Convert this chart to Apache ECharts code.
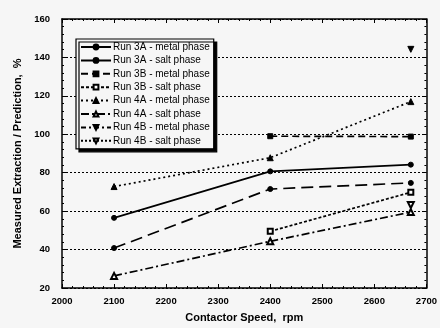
<!DOCTYPE html>
<html>
<head>
<meta charset="utf-8">
<script src="https://cdn.jsdelivr.net/npm/echarts@6/dist/echarts.min.js"></script>
<style>
html,body{margin:0;padding:0;background:#f6f6f6;}
#c{width:440px;height:328px;}
</style>
</head>
<body>
<div id="c"></div>
<script>
// Data
var seriesNames = [
  'Run 3A - metal phase','Run 3A - salt phase','Run 3B - metal phase','Run 3B - salt phase',
  'Run 4A - metal phase','Run 4A - salt phase','Run 4B - metal phase','Run 4B - salt phase'
];
var run3A_metal = [[2100, 56.5], [2400, 80.7], [2670, 84.2]];
var run3A_salt  = [[2100, 40.8], [2400, 71.5], [2670, 74.7]];
var run3B_metal = [[2400, 99.0], [2670, 98.8]];
var run3B_salt  = [[2400, 49.5], [2670, 69.8]];
var run4A_metal = [[2100, 72.8], [2400, 87.8], [2670, 117.0]];
var run4A_salt  = [[2100, 26.3], [2400, 44.3], [2670, 59.5]];
var run4B_metal = [[2670, 144.2]];
var run4B_salt  = [[2670, 63.2]];
var xTicks = [2000, 2100, 2200, 2300, 2400, 2500, 2600, 2700];
var yTicks = [20, 40, 60, 80, 100, 120, 140, 160];

var styles = [
  {data: run3A_metal, symbol: 'circle', size: 5, type: 'solid', rot: 0},
  {data: run3A_salt,  symbol: 'circle', size: 5, type: [12, 6], rot: 0},
  {data: run3B_metal, symbol: 'rect', size: 5, type: [7, 4], rot: 0},
  {data: run3B_salt,  symbol: 'emptyRect', size: 5, type: [3, 2], rot: 0},
  {data: run4A_metal, symbol: 'triangle', size: 6, type: [2, 3], rot: 0},
  {data: run4A_salt,  symbol: 'emptyTriangle', size: 6, type: [8, 3, 2, 3], rot: 0},
  {data: run4B_metal, symbol: 'triangle', size: 6, type: [5, 3, 2, 3], rot: 180},
  {data: run4B_salt,  symbol: 'emptyTriangle', size: 6, type: [2, 2], rot: 180}
];

var font = 'Liberation Sans, Arial, sans-serif';
var chart = echarts.init(document.getElementById('c'), null, {renderer: 'canvas'});

var series = styles.map(function (s, i) {
  return {
    name: seriesNames[i],
    type: 'line',
    data: s.data,
    symbol: s.symbol,
    symbolSize: s.size,
    symbolRotate: s.rot,
    showAllSymbol: true,
    itemStyle: {color: '#000', borderColor: '#000', borderWidth: 1},
    lineStyle: {color: '#000', width: 1.7, type: s.type},
    animation: false,
    z: 3
  };
});

var axisCommon = {
  axisLine: {show: true, lineStyle: {color: '#000', width: 1.5}},
  axisTick: {show: true, inside: true, length: 4, lineStyle: {color: '#000', width: 1}},
  minorTick: {show: true, splitNumber: 5, length: 2, lineStyle: {color: '#000', width: 1}}
};

chart.setOption({
  backgroundColor: '#f6f6f6',
  animation: false,
  grid: {left: 62, right: 13, top: 19, bottom: 40},
  legend: {
    orient: 'vertical',
    left: 76, top: 39,
    padding: [3, 4, 3, 4],
    itemWidth: 30, itemHeight: 6, itemGap: 3.4,
    backgroundColor: '#f6f6f6',
    borderColor: '#000', borderWidth: 1.2,
    shadowColor: '#000', shadowBlur: 0, shadowOffsetX: 3, shadowOffsetY: 3,
    textStyle: {fontFamily: font, fontSize: 10, color: '#000', padding: [0, 0, 0, -3]},
    data: seriesNames
  },
  xAxis: [
    Object.assign({
      type: 'value', min: xTicks[0], max: xTicks[xTicks.length - 1], interval: 100,
      splitLine: {show: false},
      axisLabel: {fontFamily: font, fontWeight: 'bold', fontSize: 9.5, color: '#000', margin: 8,
        formatter: function (v) { return String(v); }},
      name: 'Contactor Speed,  rpm', nameLocation: 'middle', nameGap: 24,
      nameTextStyle: {fontFamily: font, fontWeight: 'bold', fontSize: 11, color: '#000'}
    }, axisCommon),
    Object.assign({
      type: 'value', position: 'top', min: xTicks[0], max: xTicks[xTicks.length - 1], interval: 100,
      splitLine: {show: false}, axisLabel: {show: false}
    }, axisCommon)
  ],
  yAxis: [
    Object.assign({
      type: 'value', min: yTicks[0], max: yTicks[yTicks.length - 1], interval: 20,
      splitLine: {show: true, lineStyle: {color: '#000', width: 1, type: [2, 2]}},
      axisLabel: {fontFamily: font, fontWeight: 'bold', fontSize: 9.5, color: '#000', margin: 12},
      name: 'Measured Extraction / Prediction,  %', nameLocation: 'middle', nameGap: 36,
      nameTextStyle: {fontFamily: font, fontWeight: 'bold', fontSize: 11, color: '#000'}
    }, axisCommon),
    Object.assign({
      type: 'value', position: 'right', min: yTicks[0], max: yTicks[yTicks.length - 1], interval: 20,
      splitLine: {show: false}, axisLabel: {show: false}
    }, axisCommon)
  ],
  series: series
});
</script>
</body>
</html>
